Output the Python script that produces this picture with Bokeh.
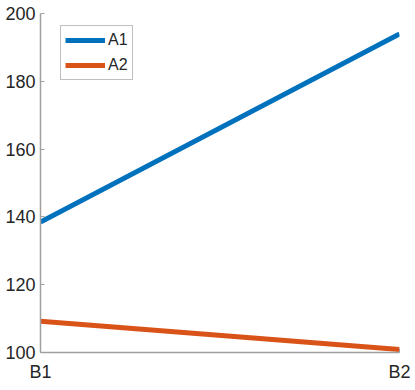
from bokeh.plotting import figure
from bokeh.models import Range1d, FixedTicker, Legend, LegendItem
from bokeh.embed import file_html
from bokeh.resources import INLINE

categories = ["B1", "B2"]
series_names = ["A1", "A2"]
a1_values = [138.5, 194.0]
a2_values = [109.2, 100.9]
y_ticks = [100, 120, 140, 160, 180, 200]
colors = ["#0072BD", "#D95319"]

x_pos = list(range(1, len(categories) + 1))

p = figure(output_backend="svg", toolbar_location=None,
           frame_width=359, frame_height=339,
           x_range=Range1d(1, 2), y_range=Range1d(100, 200),
           min_border_left=40, min_border_right=15, min_border_top=13,
           min_border_bottom=30)
p.outline_line_color = None
p.xgrid.visible = False
p.ygrid.visible = False

r1 = p.line(x_pos, a1_values, line_color=colors[0], line_width=5)
r2 = p.line(x_pos, a2_values, line_color=colors[1], line_width=5)

for ax in (p.xaxis[0], p.yaxis[0]):
    ax.axis_line_color = "#a0a0a0"
    ax.axis_line_width = 1.5
    ax.major_tick_line_color = "#a0a0a0"
    ax.major_tick_in = 4
    ax.major_tick_out = 0
    ax.minor_tick_line_color = None
    ax.major_label_text_font = "Liberation Sans"
    ax.major_label_text_font_size = "18px"
    ax.major_label_text_color = "#262626"

p.yaxis.ticker = FixedTicker(ticks=y_ticks)
p.yaxis.major_label_standoff = 5
p.xaxis.ticker = FixedTicker(ticks=x_pos)
p.xaxis.major_label_overrides = {x: c for x, c in zip(x_pos, categories)}
p.xaxis.major_label_standoff = 9

legend = Legend(items=[LegendItem(label=series_names[0], renderers=[r1]),
                       LegendItem(label=series_names[1], renderers=[r2])],
                location=(20, 272))
legend.label_text_font = "Liberation Sans"
legend.label_text_font_size = "16px"
legend.label_text_color = "#262626"
legend.glyph_width = 40
legend.glyph_height = 20
legend.label_height = 20
legend.label_standoff = 3
legend.spacing = 5
legend.padding = 4
legend.margin = 0
legend.border_line_color = "#808080"
legend.border_line_width = 1
legend.background_fill_color = "white"
legend.background_fill_alpha = 1
p.add_layout(legend, "center")

open("out.html", "w").write(file_html(p, INLINE))
